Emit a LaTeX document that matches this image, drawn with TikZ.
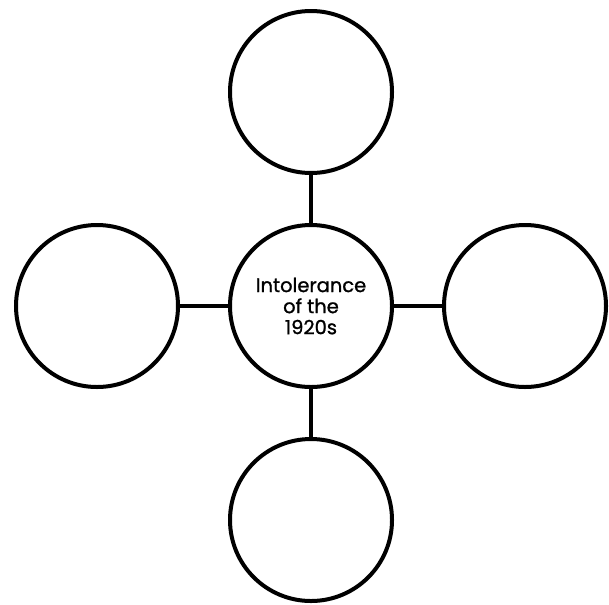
\documentclass[tikz,border=0pt]{standalone}
\usepackage{fontspec}
\setmainfont{Poppins}
\newfontfamily\hubfont{Poppins}[FakeBold=1.2]
\tikzset{
  bubble/.style={circle,draw=black,line width=3pt,minimum size=121.5pt,inner sep=0pt,align=center,font=\hubfont\fontsize{14.6}{15.8}\selectfont},
  spoke/.style={line width=3pt}
}
\begin{document}
\begin{tikzpicture}[x=0.75pt,y=-0.75pt]
 \useasboundingbox (0,0) rectangle (609,604);
 \node[bubble] (hub) at (311,306) {Intolerance\\of the\\1920s};
 \foreach \name/\px/\py in {top/311/92,bottom/311/520,left/97/306,right/525/306}{
   \node[bubble] (\name) at (\px,\py) {};
   \draw[spoke] (hub) -- (\name);
 }
\end{tikzpicture}
\end{document}
